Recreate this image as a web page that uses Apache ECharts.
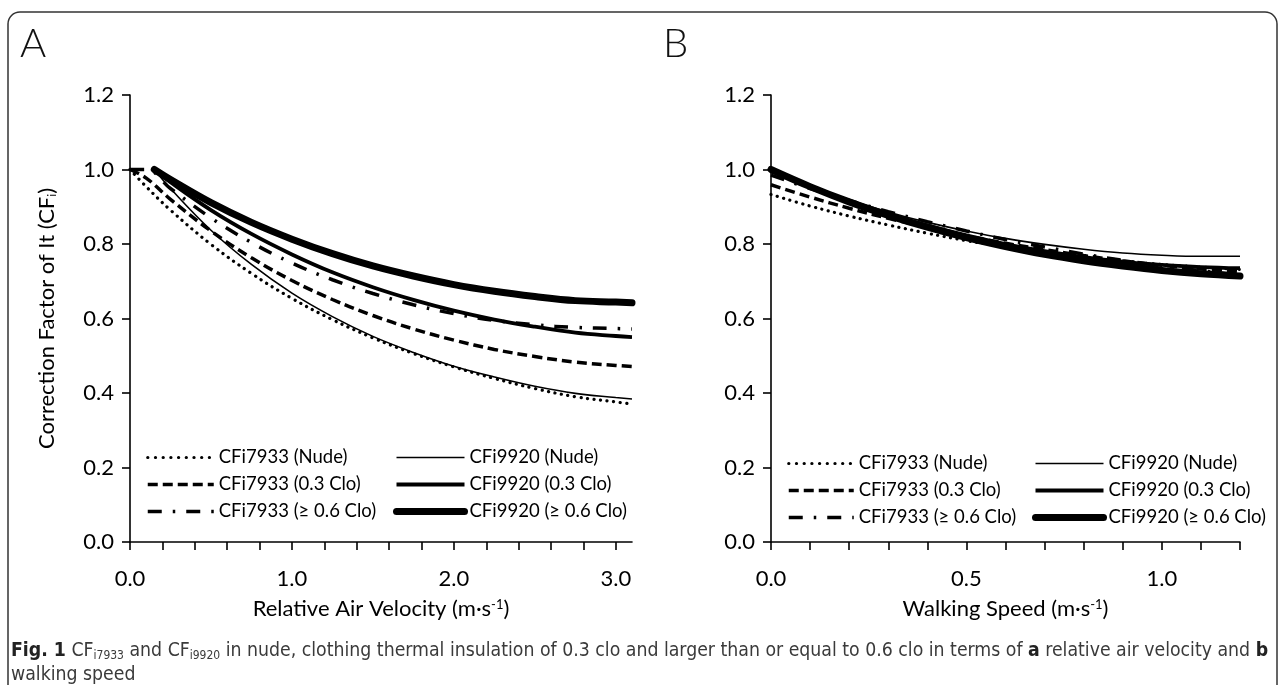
<!DOCTYPE html>
<html><head><meta charset="utf-8">
<script src="https://cdn.jsdelivr.net/npm/echarts@6/dist/echarts.min.js"></script>
<style>html,body{margin:0;padding:0;background:#fff}#c{width:1285px;height:685px}</style>
</head><body><div id="c"></div>
<script>
// ---------- Panel A: relative air velocity ----------
const xA7933 = [0, 0.1, 0.25, 0.5, 0.75, 1.0, 1.25, 1.5, 1.75, 2.0, 2.25, 2.5, 2.75, 3.0, 3.1];
const xA9920 = [0.15, 0.25, 0.5, 0.75, 1.0, 1.25, 1.5, 1.75, 2.0, 2.25, 2.5, 2.75, 3.0, 3.1];
const yA7933Nude = [1.0, 0.954, 0.891, 0.799, 0.721, 0.654, 0.597, 0.548, 0.506, 0.470, 0.439, 0.412, 0.390, 0.376, 0.370];
const yA7933Clo03 = [1.0, 0.977, 0.920, 0.835, 0.763, 0.702, 0.651, 0.608, 0.572, 0.542, 0.517, 0.498, 0.483, 0.474, 0.471];
const yA7933Clo06 = [1.0, 1.0, 0.949, 0.870, 0.804, 0.749, 0.704, 0.667, 0.637, 0.613, 0.595, 0.583, 0.576, 0.573, 0.572];
const yA9920Nude = [1.0, 0.949, 0.837, 0.745, 0.668, 0.605, 0.552, 0.509, 0.472, 0.443, 0.418, 0.399, 0.388, 0.384];
const yA9920Clo03 = [1.0, 0.966, 0.891, 0.827, 0.772, 0.724, 0.684, 0.650, 0.621, 0.597, 0.578, 0.562, 0.553, 0.550];
const yA9920Clo06 = [1.0, 0.973, 0.911, 0.858, 0.813, 0.774, 0.741, 0.714, 0.691, 0.673, 0.659, 0.648, 0.644, 0.642];
const xATicks = [0, 0.2, 0.4, 0.6, 0.8, 1.0, 1.2, 1.4, 1.6, 1.8, 2.0, 2.2, 2.4, 2.6, 2.8, 3.0];
const xALabels = [0, 1, 2, 3];

// ---------- Panel B: walking speed ----------
const xB = [0, 0.1, 0.2, 0.3, 0.4, 0.5, 0.6, 0.7, 0.8, 0.9, 1.0, 1.1, 1.2];
const yB7933Nude = [0.933, 0.902, 0.875, 0.851, 0.829, 0.809, 0.792, 0.777, 0.765, 0.754, 0.745, 0.738, 0.732];
const yB7933Clo03 = [0.959, 0.926, 0.896, 0.869, 0.845, 0.822, 0.802, 0.785, 0.769, 0.755, 0.743, 0.733, 0.725];
const yB7933Clo06 = [0.985, 0.949, 0.917, 0.887, 0.860, 0.835, 0.812, 0.792, 0.773, 0.756, 0.741, 0.728, 0.717];
const yB9920Nude = [1.0, 0.957, 0.919, 0.886, 0.858, 0.835, 0.815, 0.799, 0.786, 0.776, 0.770, 0.767, 0.767];
const yB9920Clo03 = [1.0, 0.955, 0.915, 0.880, 0.850, 0.823, 0.800, 0.781, 0.765, 0.752, 0.744, 0.738, 0.735];
const yB9920Clo06 = [1.0, 0.954, 0.913, 0.877, 0.845, 0.817, 0.793, 0.772, 0.755, 0.741, 0.729, 0.720, 0.714];
const xBLabels = [0, 0.5, 1.0];

const names = ['CFi7933 (Nude)', 'CFi7933 (0.3 Clo)', 'CFi7933 (\u2265 0.6 Clo)',
               'CFi9920 (Nude)', 'CFi9920 (0.3 Clo)', 'CFi9920 (\u2265 0.6 Clo)'];

const FONT = 'Lato, "Noto Sans", sans-serif';
const CAPFONT = '"Liberation Sans Narrow", "DejaVu Sans Condensed", sans-serif';
const styles = [
  {width: 3.2, type: [0.1, 6.5], cap: 'round', color: '#000'},
  {width: 3.5, type: [10, 5], cap: 'butt', color: '#000'},
  {width: 3.5, type: [14, 11, 2.5, 11], cap: 'butt', color: '#000'},
  {width: 1.6, type: 'solid', cap: 'butt', color: '#000'},
  {width: 3.8, type: 'solid', cap: 'butt', color: '#000'},
  {width: 7, type: 'solid', cap: 'round', color: '#000'}
];

function pairs(xs, ys) { return xs.map((x, i) => [x, ys[i]]); }
const dataA = [
  pairs(xA7933, yA7933Nude), pairs(xA7933, yA7933Clo03), pairs(xA7933, yA7933Clo06),
  pairs(xA9920, yA9920Nude), pairs(xA9920, yA9920Clo03), pairs(xA9920, yA9920Clo06)
];
const dataB = [
  pairs(xB, yB7933Nude), pairs(xB, yB7933Clo03), pairs(xB, yB7933Clo06),
  pairs(xB, yB9920Nude), pairs(xB, yB9920Clo03), pairs(xB, yB9920Clo06)
];
const drawOrder = [5, 4, 3, 2, 1, 0];
const series = [];
drawOrder.forEach(i => {
  series.push({name: names[i], type: 'line', xAxisIndex: 0, yAxisIndex: 0, data: dataA[i],
    smooth: 0.4, symbol: 'none', showSymbol: false, lineStyle: styles[i], silent: true, z: 2 + (5 - i)});
});
drawOrder.forEach(i => {
  series.push({name: names[i], type: 'line', xAxisIndex: 1, yAxisIndex: 1, data: dataB[i],
    smooth: 0.4, symbol: 'none', showSymbol: false, lineStyle: styles[i], silent: true, z: 2 + (5 - i)});
});

function legendItems(idx) {
  return idx.map(i => ({name: names[i], lineStyle: Object.assign({}, styles[i], i === 0 ? {type: [0.1, 7.6]} : {}),
    itemStyle: {opacity: 0}}));
}
const legendCommon = {orient: 'vertical', itemHeight: 20, itemGap: 8, padding: 0, selectedMode: false,
  textStyle: {fontFamily: FONT, fontSize: 18.5, color: '#000'}};

const axisCommonX = {
  type: 'value',
  axisLine: {show: true, lineStyle: {color: '#000', width: 1.6}},
  axisTick: {show: true, length: 8, inside: false, lineStyle: {color: '#000', width: 1.6}},
  splitLine: {show: false},
  nameLocation: 'middle',
  nameTextStyle: {fontFamily: FONT, fontSize: 22, color: '#000',
    rich: {sup: {fontFamily: FONT, fontSize: 13, color: '#000', verticalAlign: 'top', lineHeight: 10, padding: [0, 0, 10, 0]}}}
};
const axisCommonY = {
  type: 'value', min: 0, max: 1.2, interval: 0.2,
  axisLine: {show: true, lineStyle: {color: '#000', width: 1.6}},
  axisTick: {show: true, length: 8, lineStyle: {color: '#000', width: 1.6}},
  splitLine: {show: false},
  axisLabel: {fontFamily: FONT, fontSize: 22, color: '#000', margin: 16, formatter: v => v.toFixed(1)}
};
const xLabelStyle = {fontFamily: FONT, fontSize: 22, color: '#000', margin: 26, formatter: v => v.toFixed(1)};

const option = {
  animation: false,
  backgroundColor: '#fff',
  grid: [
    {left: 130, top: 95, width: 502, height: 447},
    {left: 771, top: 95, width: 469, height: 447}
  ],
  xAxis: [
    Object.assign({}, axisCommonX, {gridIndex: 0, min: 0, max: 3.1,
      axisTick: Object.assign({}, axisCommonX.axisTick, {customValues: xATicks}),
      axisLabel: Object.assign({customValues: xALabels}, xLabelStyle),
      name: 'Relative Air Velocity (m\u00b7s{sup|-1})', nameGap: 56}),
    Object.assign({}, axisCommonX, {gridIndex: 1, min: 0, max: 1.2, interval: 0.1,
      axisLabel: Object.assign({customValues: xBLabels}, xLabelStyle),
      name: 'Walking Speed (m\u00b7s{sup|-1})', nameGap: 56})
  ],
  yAxis: [
    Object.assign({}, axisCommonY, {gridIndex: 0, name: 'Correction Factor of It (CF{sub|i})',
      nameLocation: 'middle', nameGap: 72, nameRotate: 90,
      nameTextStyle: {fontFamily: FONT, fontSize: 22, color: '#000',
        rich: {sub: {fontFamily: FONT, fontSize: 12, color: '#000', padding: [10, 0, 0, 0]}}}}),
    Object.assign({}, axisCommonY, {gridIndex: 1})
  ],
  legend: [
    Object.assign({}, legendCommon, {left: 146, top: 448, itemWidth: 66, data: legendItems([0, 1, 2])}),
    Object.assign({}, legendCommon, {left: 393, top: 448, itemWidth: 68, data: legendItems([3, 4, 5])}),
    Object.assign({}, legendCommon, {left: 787, top: 454, itemWidth: 65, data: legendItems([0, 1, 2])}),
    Object.assign({}, legendCommon, {left: 1032, top: 454, itemWidth: 68, data: legendItems([3, 4, 5])})
  ],
  graphic: [
    {type: 'rect', shape: {x: 8, y: 12, width: 1269, height: 720, r: 12}, silent: true,
      style: {fill: 'none', stroke: '#333', lineWidth: 1.5}},
    {type: 'text', left: 20, top: 24, silent: true,
      style: {text: 'A', fontFamily: FONT, fontWeight: 300, fontSize: 40, fill: '#111'}},
    {type: 'text', left: 663, top: 24, silent: true,
      style: {text: 'B', fontFamily: FONT, fontWeight: 300, fontSize: 40, fill: '#111'}},
    {type: 'text', left: 11, top: 639, silent: true,
      style: {
        text: '{b|Fig. 1} CF{s|i7933} and CF{s|i9920} in nude, clothing thermal insulation of 0.3 clo and larger than or equal to 0.6 clo in terms of {b|a} relative air velocity and {b|b}\nwalking speed',
        fontFamily: CAPFONT, fontSize: 19.3, fill: '#3a3a3a', lineHeight: 24,
        rich: {
          b: {fontFamily: CAPFONT, fontWeight: 'bold', fontSize: 19.3, fill: '#222', lineHeight: 24},
          s: {fontFamily: CAPFONT, fontSize: 12, fill: '#3a3a3a', padding: [10, 0, 0, 0], lineHeight: 24}
        }
      }}
  ],
  series: series
};
const chart = echarts.init(document.getElementById('c'), null, {renderer: 'canvas'});
chart.setOption(option);
</script>
</body></html>
